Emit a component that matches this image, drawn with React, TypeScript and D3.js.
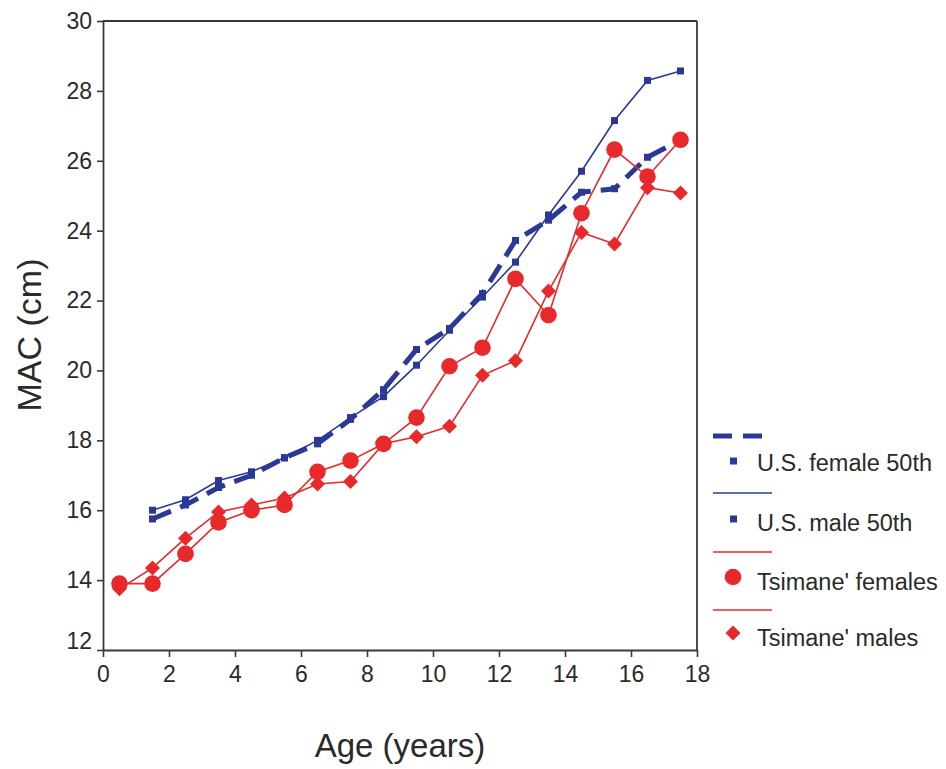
import React, { useEffect, useRef } from "react";
import * as d3 from "d3";

const usAges = [1.5, 2.5, 3.5, 4.5, 5.5, 6.5, 7.5, 8.5, 9.5, 10.5, 11.5, 12.5, 13.5, 14.5, 15.5, 16.5, 17.5];
const usFemale = [15.75, 16.15, 16.65, 17.0, 17.5, 17.9, 18.6, 19.45, 20.6, 21.2, 22.2, 23.72, 24.3, 25.1, 25.2, 26.1, 26.6];
const usMale = [16.0, 16.3, 16.85, 17.1, 17.5, 18.0, 18.65, 19.25, 20.15, 21.15, 22.1, 23.1, 24.45, 25.7, 27.15, 28.3, 28.57];

const tsAges = [0.5, 1.5, 2.5, 3.5, 4.5, 5.5, 6.5, 7.5, 8.5, 9.5, 10.5, 11.5, 12.5, 13.5, 14.5, 15.5, 16.5, 17.5];
const tsFemale = [13.9, 13.9, 14.75, 15.65, 16.0, 16.15, 17.1, 17.42, 17.9, 18.65, 20.12, 20.65, 22.62, 21.58, 24.5, 26.32, 25.55, 26.6];
const tsMale = [13.75, 14.35, 15.2, 15.95, 16.15, 16.35, 16.75, 16.82, 17.9, 18.1, 18.4, 19.86, 20.28, 22.27, 23.95, 23.62, 25.23, 25.08];

const xTicks = [0, 2, 4, 6, 8, 10, 12, 14, 16, 18];
const yTicks = [12, 14, 16, 18, 20, 22, 24, 26, 28, 30];

const legendLabels = ["U.S. female 50th", "U.S. male 50th", "Tsimane' females", "Tsimane' males"];

const BLUE = "#2b3896";
const RED = "#e8292b";
const AXIS = "#3a3a3a";
const TEXT = "#2a2a2a";
const FONT = "'Liberation Sans', Arial, Helvetica, sans-serif";

export default function App() {
  const ref = useRef<SVGSVGElement | null>(null);

  useEffect(() => {
    const svg = d3.select(ref.current);
    svg.selectAll("*").remove();

    const x = d3.scaleLinear().domain([0, 18]).range([103, 697]);
    const y = d3.scaleLinear().domain([12, 30]).range([650, 21]);

    // frame (top & right)
    svg.append("line").attr("x1", 103).attr("x2", 697).attr("y1", 21).attr("y2", 21)
      .attr("stroke", AXIS).attr("stroke-width", 1.8);
    svg.append("line").attr("x1", 697).attr("x2", 697).attr("y1", 21).attr("y2", 650)
      .attr("stroke", AXIS).attr("stroke-width", 1.8);

    const xAxis = svg.append("g").attr("transform", "translate(0,650)")
      .call(d3.axisBottom(x).tickValues(xTicks).tickSize(7).tickPadding(9).tickSizeOuter(0));
    xAxis.select(".domain").attr("stroke", AXIS).attr("stroke-width", 1.8);
    xAxis.selectAll(".tick line").attr("stroke", AXIS).attr("stroke-width", 1.6);
    xAxis.selectAll(".tick text").attr("fill", TEXT).attr("font-size", 23).attr("font-family", FONT);

    const yAxis = svg.append("g").attr("transform", "translate(103,0)")
      .call(d3.axisLeft(y).tickValues(yTicks).tickSize(6).tickPadding(5).tickSizeOuter(0));
    yAxis.select(".domain").attr("stroke", AXIS).attr("stroke-width", 1.8);
    yAxis.selectAll(".tick line").attr("stroke", AXIS).attr("stroke-width", 1.6);
    yAxis.selectAll(".tick text").attr("fill", TEXT).attr("font-size", 23).attr("font-family", FONT)
      .attr("dy", (d: any) => (d === 12 ? "-0.05em" : "0.32em"));

    // axis titles
    svg.append("text").attr("x", 400).attr("y", 757).attr("text-anchor", "middle")
      .attr("font-size", 33).attr("font-family", FONT).attr("fill", TEXT).text("Age (years)");
    svg.append("text").attr("transform", "translate(41,335) rotate(-90)").attr("text-anchor", "middle")
      .attr("font-size", 34).attr("font-family", FONT).attr("fill", TEXT).text("MAC (cm)");

    const line = d3.line<[number, number]>().x((d) => x(d[0])).y((d) => y(d[1]));
    const usF = usAges.map((a, i) => [a, usFemale[i]] as [number, number]);
    const usM = usAges.map((a, i) => [a, usMale[i]] as [number, number]);
    const tsF = tsAges.map((a, i) => [a, tsFemale[i]] as [number, number]);
    const tsM = tsAges.map((a, i) => [a, tsMale[i]] as [number, number]);

    const plot = svg.append("g");
    // US male
    plot.append("path").attr("d", line(usM)).attr("fill", "none").attr("stroke", BLUE).attr("stroke-width", 1.6);
    plot.selectAll(".um").data(usM).enter().append("rect")
      .attr("x", (d) => x(d[0]) - 3.5).attr("y", (d) => y(d[1]) - 3.5).attr("width", 7).attr("height", 7).attr("fill", BLUE);
    // US female dashed
    plot.selectAll(".uf").data(usF).enter().append("rect")
      .attr("x", (d) => x(d[0]) - 3.5).attr("y", (d) => y(d[1]) - 3.5).attr("width", 7).attr("height", 7).attr("fill", BLUE);
    plot.append("path").attr("d", line(usF)).attr("fill", "none").attr("stroke", BLUE)
      .attr("stroke-width", 5).attr("stroke-dasharray", "20,10");

    // Tsimane lines
    plot.append("path").attr("d", line(tsF)).attr("fill", "none").attr("stroke", RED).attr("stroke-width", 1.6);
    plot.append("path").attr("d", line(tsM)).attr("fill", "none").attr("stroke", RED).attr("stroke-width", 1.6);
    const diamond = (cx: number, cy: number, r: number) => `M${cx},${cy - r}L${cx + r},${cy}L${cx},${cy + r}L${cx - r},${cy}Z`;
    plot.selectAll(".tm").data(tsM).enter().append("path")
      .attr("d", (d) => diamond(x(d[0]), y(d[1]), 7.5)).attr("fill", RED);
    plot.selectAll(".tf").data(tsF).enter().append("circle")
      .attr("cx", (d) => x(d[0])).attr("cy", (d) => y(d[1])).attr("r", 8.3).attr("fill", RED);

    // legend
    const lg = svg.append("g");
    lg.append("line").attr("x1", 713).attr("x2", 763).attr("y1", 436).attr("y2", 436)
      .attr("stroke", BLUE).attr("stroke-width", 5).attr("stroke-dasharray", "19,11");
    lg.append("rect").attr("x", 730).attr("y", 457.5).attr("width", 7).attr("height", 7).attr("fill", BLUE);
    lg.append("line").attr("x1", 713).attr("x2", 772).attr("y1", 493).attr("y2", 493)
      .attr("stroke", BLUE).attr("stroke-width", 1.6);
    lg.append("rect").attr("x", 730).attr("y", 515.5).attr("width", 7).attr("height", 7).attr("fill", BLUE);
    lg.append("line").attr("x1", 713).attr("x2", 772).attr("y1", 552).attr("y2", 552)
      .attr("stroke", RED).attr("stroke-width", 1.6);
    lg.append("circle").attr("cx", 733).attr("cy", 577).attr("r", 8.3).attr("fill", RED);
    lg.append("line").attr("x1", 713).attr("x2", 772).attr("y1", 610).attr("y2", 610)
      .attr("stroke", RED).attr("stroke-width", 1.6);
    lg.append("path").attr("d", diamond(733, 633, 7.5)).attr("fill", RED);

    const ys = [463, 523, 582, 638];
    legendLabels.forEach((t, i) => {
      lg.append("text").attr("x", 757).attr("y", ys[i]).attr("dy", "0.35em")
        .attr("font-size", 23.5).attr("font-family", FONT).attr("fill", TEXT).text(t);
    });
  }, []);

  return (
    <svg
      ref={ref}
      width={946}
      height={769}
      style={{ position: "absolute", left: 0, top: 0, background: "#fff" }}
    />
  );
}
